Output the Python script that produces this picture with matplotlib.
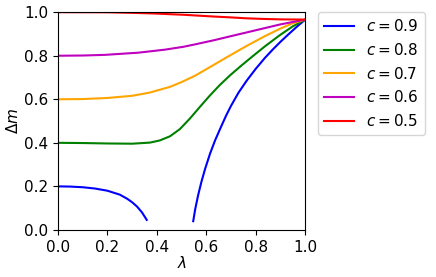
import matplotlib
matplotlib.use('Agg')
from matplotlib import pyplot as plt
import numpy as np

# values, one (lambda, delta m) list per c
lam_09a = [0.0, 0.05, 0.1, 0.15, 0.2, 0.25, 0.28, 0.3, 0.32, 0.34, 0.359]
dm_09a = [0.2, 0.199, 0.196, 0.19, 0.18, 0.162, 0.143, 0.127, 0.107, 0.08, 0.046]
lam_09b = [0.547, 0.555, 0.567, 0.58, 0.595, 0.615, 0.635, 0.655, 0.68, 0.7,
           0.73, 0.763, 0.8, 0.837, 0.87, 0.9, 0.93, 0.965, 1.0]
dm_09b = [0.04, 0.095, 0.16, 0.22, 0.28, 0.35, 0.41, 0.462, 0.525, 0.57,
          0.63, 0.685, 0.74, 0.79, 0.83, 0.864, 0.896, 0.932, 0.966]

lam_08 = [0.0, 0.1, 0.2, 0.3, 0.372, 0.412, 0.453, 0.493, 0.534, 0.574, 0.615,
          0.655, 0.696, 0.743, 0.79, 0.837, 0.898, 0.95, 1.0]
dm_08 = [0.4, 0.399, 0.397, 0.396, 0.401, 0.411, 0.43, 0.463, 0.512, 0.565, 0.618,
         0.666, 0.71, 0.756, 0.8, 0.843, 0.895, 0.935, 0.966]

lam_07 = [0.0, 0.1, 0.2, 0.3, 0.372, 0.453, 0.5, 0.554, 0.615, 0.689, 0.763,
          0.837, 0.9, 0.95, 1.0]
dm_07 = [0.6, 0.601, 0.606, 0.616, 0.631, 0.657, 0.679, 0.708, 0.748, 0.797, 0.845,
         0.89, 0.925, 0.949, 0.966]

lam_06 = [0.0, 0.1, 0.19, 0.325, 0.433, 0.507, 0.554, 0.63, 0.7, 0.763, 0.837,
          0.9, 1.0]
dm_06 = [0.8, 0.801, 0.804, 0.814, 0.828, 0.841, 0.852, 0.871, 0.89, 0.907, 0.927,
         0.944, 0.966]

lam_05 = [0.0, 0.2, 0.3, 0.39, 0.45, 0.51, 0.57, 0.63, 0.7, 0.76, 0.83, 0.9, 1.0]
dm_05 = [1.0, 0.9995, 0.997, 0.994, 0.991, 0.988, 0.984, 0.98, 0.976, 0.972,
         0.969, 0.967, 0.966]

plt.rcParams['font.size'] = 11

fig = plt.figure(figsize=(4.36, 2.77), dpi=100)
ax = fig.add_axes([0.133, 0.170, 0.567, 0.786])

ax.plot(lam_09a, dm_09a, color='blue', label='$c = 0.9$')
ax.plot(lam_09b, dm_09b, color='blue')
ax.plot(lam_08, dm_08, color='green', label='$c = 0.8$')
ax.plot(lam_07, dm_07, color='orange', label='$c = 0.7$')
ax.plot(lam_06, dm_06, color='m', label='$c = 0.6$')
ax.plot(lam_05, dm_05, color='red', label='$c = 0.5$')

ax.set_xlim(0, 1)
ax.set_ylim(0, 1)
ax.set_xticks(np.arange(0, 1.01, 0.2))
ax.set_yticks(np.arange(0, 1.01, 0.2))
ax.set_xlabel(r'$\lambda$', labelpad=0)
ax.set_ylabel(r'$\Delta m$', labelpad=2)
ax.legend(bbox_to_anchor=(1.05, 1), loc=2, borderaxespad=0.)

fig.savefig('out.png', dpi=100)
